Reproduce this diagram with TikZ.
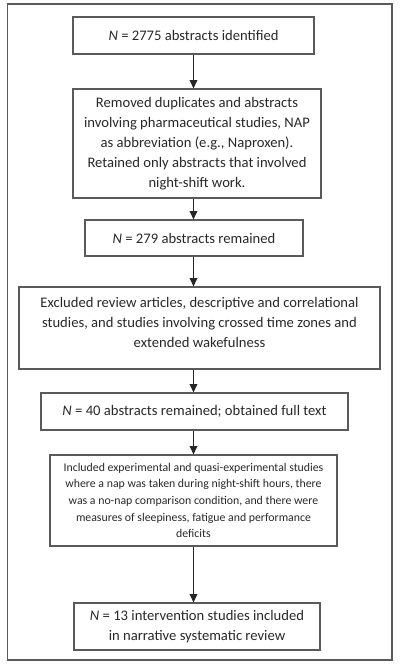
\documentclass[tikz,border=0pt]{standalone}
\usepackage{fontspec}
\setmainfont{Carlito}
\usetikzlibrary{arrows.meta, positioning, calc}
\definecolor{boxgray}{RGB}{90, 90, 90}
\definecolor{txtgray}{RGB}{40, 40, 40}

\begin{document}
\begin{tikzpicture}[
        box/.style={rectangle, draw=boxgray, line width=0.8pt, inner sep=2pt, align=center, text=txtgray, font=\fontsize{10.4}{14.2}\selectfont},
        smallbox/.style={box, font=\fontsize{8.4}{11.8}\selectfont},
        arrow/.style={-{Triangle[width=5.5pt, length=6pt]}, line width=0.8pt, black!85},
    ]
        \useasboundingbox (0,0) rectangle (10,16.7);

        % Outer frame
        \draw[boxgray, line width=0.8pt] (0.19,0.2) rectangle (9.8,16.6);

        % Search and screening steps
        \node[box, minimum width=6.025cm, minimum height=0.925cm] (ident) at (4.8375,15.8125) {\textit{N} = 2775 abstracts identified};
        \node[box, minimum width=6.2cm, minimum height=2.725cm] (dedup) at (4.925,13.1125) {Removed duplicates and abstracts\\involving pharmaceutical studies, NAP\\as abbreviation (e.g., Naproxen).\\Retained only abstracts that involved\\night-shift work.};
        \node[box, minimum width=5.45cm, minimum height=0.9cm] (remain) at (4.85,10.75) {\textit{N} = 279 abstracts remained};
        \node[box, minimum width=9.025cm, minimum height=2.05cm] (excl) at (4.9875,8.5) {Excluded review articles, descriptive and correlational\\studies, and studies involving crossed time zones and\\extended wakefulness\\[-6pt]};
        \node[box, minimum width=7.675cm, minimum height=0.925cm] (fulltext) at (4.8625,6.4125) {\textit{N} = 40 abstracts remained; obtained full text};
        \node[smallbox, minimum width=7.175cm, minimum height=2.275cm] (incl) at (4.8375,4.1875) {Included experimental and quasi-experimental studies\\where a nap was taken during night-shift hours, there\\was a no-nap comparison condition, and there were\\measures of sleepiness, fatigue and performance\\deficits};
        \node[box, minimum width=6.15cm, minimum height=1.175cm] (final) at (4.925,1.0375) {\textit{N} = 13 intervention studies included\\in narrative systematic review};

        % Arrows - flow downwards
        \draw[arrow] (ident.south) -- (ident.south |- dedup.north);
        \draw[arrow] (ident.south |- dedup.south) -- (ident.south |- remain.north);
        \draw[arrow] (ident.south |- remain.south) -- (ident.south |- excl.north);
        \draw[arrow] (ident.south |- excl.south) -- (ident.south |- fulltext.north);
        \draw[arrow] (ident.south |- fulltext.south) -- (ident.south |- incl.north);
        \draw[arrow] (ident.south |- incl.south) -- (ident.south |- final.north);
    \end{tikzpicture}
\end{document}
